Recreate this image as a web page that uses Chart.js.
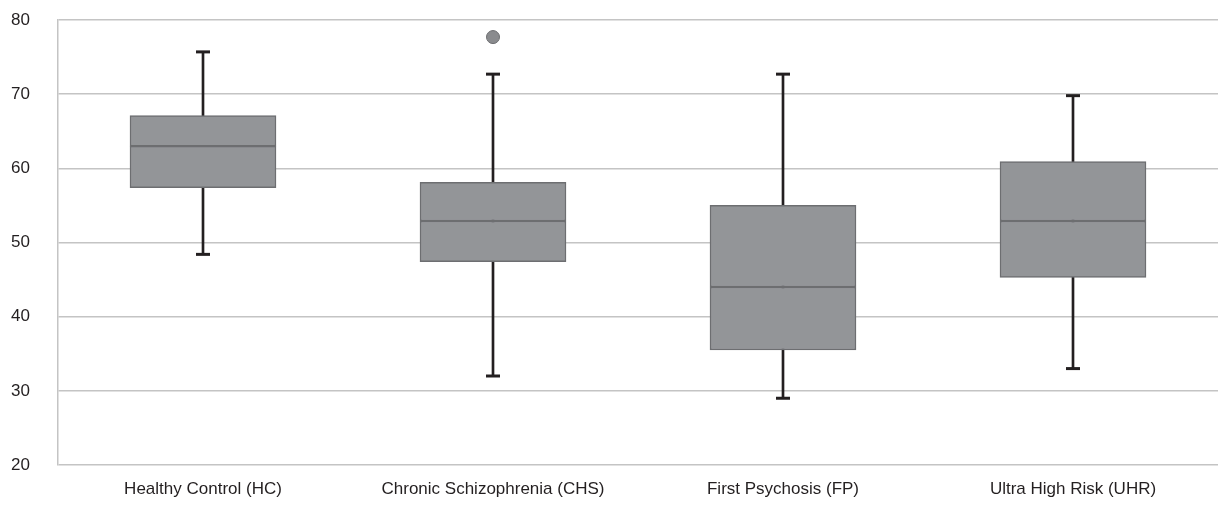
<!DOCTYPE html>
<html>
<head>
<meta charset="utf-8">
<script src="https://cdn.jsdelivr.net/npm/chart.js@4"></script>
<style>
  html, body { margin:0; padding:0; background:#fff; overflow:hidden; }
  #wrap { width:1218px; height:505px; }
</style>
</head>
<body>
<div id="wrap"><canvas id="boxChart"></canvas></div>
<script>
// box plot values
const groups = ['Healthy Control (HC)', 'Chronic Schizophrenia (CHS)', 'First Psychosis (FP)', 'Ultra High Risk (UHR)'];
const mins    = [48.4, 32.0, 29.0, 33.0];
const q1s     = [57.4, 47.4, 35.5, 45.3];
const medians = [63.0, 52.9, 44.0, 52.9];
const q3s     = [67.1, 58.1, 55.0, 60.9];
const maxs    = [75.7, 72.7, 72.7, 69.8];
const outliers = [null, 77.7, null, null];
const yTicks = [20, 30, 40, 50, 60, 70, 80];

const TXT = '#231f20';
const BOX = '#939598';
const EDGE = '#6d6e71';

const lowerBox = groups.map((g,i) => [q1s[i], medians[i]]);
const upperBox = groups.map((g,i) => [medians[i], q3s[i]]);
const whisker  = groups.map((g,i) => [mins[i], maxs[i]]);

const boxStyle = {
  type: 'bar',
  backgroundColor: BOX,
  borderColor: EDGE,
  borderWidth: 1.5,
  borderSkipped: false,
  barThickness: 146,
  grouped: false,
  order: 2
};

const capStyle = {
  type: 'line',
  showLine: false,
  pointStyle: 'line',
  pointRadius: 7,
  pointBorderWidth: 3,
  pointBorderColor: TXT,
  borderColor: TXT,
  order: 1
};

new Chart(document.getElementById('boxChart').getContext('2d'), {
  data: {
    labels: groups,
    datasets: [
      { type:'bar', data: whisker, backgroundColor: TXT, barThickness: 2, grouped:false, order: 3 },
      Object.assign({ data: lowerBox }, boxStyle),
      Object.assign({ data: upperBox }, boxStyle),
      Object.assign({ data: maxs }, capStyle),
      Object.assign({ data: mins }, capStyle),
      { type:'line', data: outliers, showLine:false, pointStyle:'circle', pointRadius:6.5,
        pointBackgroundColor:'#8a8b8e', pointBorderColor: EDGE, pointBorderWidth:1, order: 0 }
    ]
  },
  options: {
    responsive: true,
    maintainAspectRatio: false,
    animation: false,
    layout: { autoPadding: false, padding: { left: 11, top: 20, right: 0, bottom: 0 } },
    plugins: { legend: { display:false }, tooltip: { enabled:false } },
    scales: {
      x: {
        grid: { display:false, drawTicks:false },
        border: { display:false },
        ticks: { color: TXT, padding: 14, font: { family:"'Liberation Sans', Arial, sans-serif", size:17 } },
        afterFit: s => { s.height = 40; s.paddingLeft = 0; s.paddingRight = 0; }
      },
      y: {
        min: 20, max: 80,
        afterBuildTicks: s => { s.ticks = yTicks.map(v => ({ value: v })); },
        grid: { color:'#c4c4c4', lineWidth:1.5, drawTicks:false },
        border: { display:true, color:'#c4c4c4', width:1.5 },
        ticks: { color: TXT, padding: 28, font: { family:"'Liberation Sans', Arial, sans-serif", size:17 } },
        afterFit: s => { s.width = 47; s.paddingTop = 0; s.paddingBottom = 0; }
      }
    }
  }
});
</script>
</body>
</html>
